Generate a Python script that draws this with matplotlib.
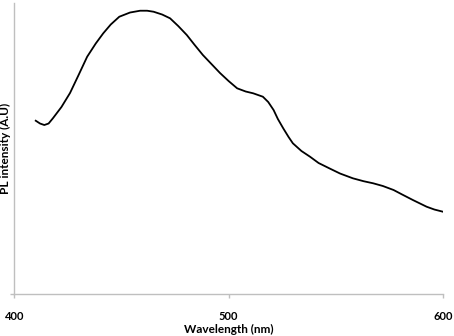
import matplotlib
matplotlib.use('Agg')
import matplotlib.pyplot as plt

# PL spectrum (arbitrary units)
wavelength = [410, 412, 414, 416, 418, 422, 426, 430, 434, 438, 441.5, 445, 449,
              454, 458.7, 462, 465, 469, 472.7, 476.5, 480.5, 484, 488, 492, 496,
              500, 504, 508, 511.5, 516, 518.5, 521, 523, 525.5, 528, 530, 534,
              538, 542, 547, 552, 558, 563, 567.5, 572, 577, 581, 586, 592.4, 596, 600]
intensity = [173.3, 170.5, 169, 170.5, 175.7, 187, 201, 219, 237.3, 250.5, 260.7, 269.5, 277.3,
             281.5, 283.3, 283.3, 282.3, 279.5, 275.7, 268, 259, 249.5, 239, 230, 221,
             213, 205.7, 202.5, 200.7, 197.3, 192, 184, 175, 165.7, 157, 150.7, 143,
             137.3, 131, 125.7, 120.5, 115.7, 112.8, 110.7, 108, 104, 99.5, 94, 87.3, 84.5, 82.3]

plt.rcParams['font.family'] = ['Lato', 'DejaVu Sans']

fig = plt.figure(figsize=(4.54, 3.36), dpi=100)
ax = fig.add_axes([0.0315, 0.125, 0.944, 0.866])

ax.plot(wavelength, intensity, color='black', linewidth=1.3)

ax.set_xlim(400, 600)
ax.set_ylim(0, 291)
ax.set_xticks([400, 500, 600])
ax.set_yticks([0])
ax.set_yticklabels([''])

for side in ['top', 'right']:
    ax.spines[side].set_visible(False)
for side in ['left', 'bottom']:
    ax.spines[side].set_color('#bfbfbf')
    ax.spines[side].set_linewidth(1.0)

ax.tick_params(axis='both', color='#bfbfbf', length=3, width=1.0)
ax.tick_params(axis='x', pad=9, labelsize=8)
for lbl in ax.get_xticklabels():
    lbl.set_fontweight('bold')

ax.set_xlabel('Wavelength (nm)', fontsize=8.5, fontweight='bold', labelpad=2)
# y label sits right at the left edge of the figure
fig.text(5.5 / 454, 1 - 148 / 336, 'PL intensity (A.U)', rotation=90,
         ha='center', va='center', fontsize=8.5, fontweight='bold')

fig.savefig('out.png', dpi=100)
